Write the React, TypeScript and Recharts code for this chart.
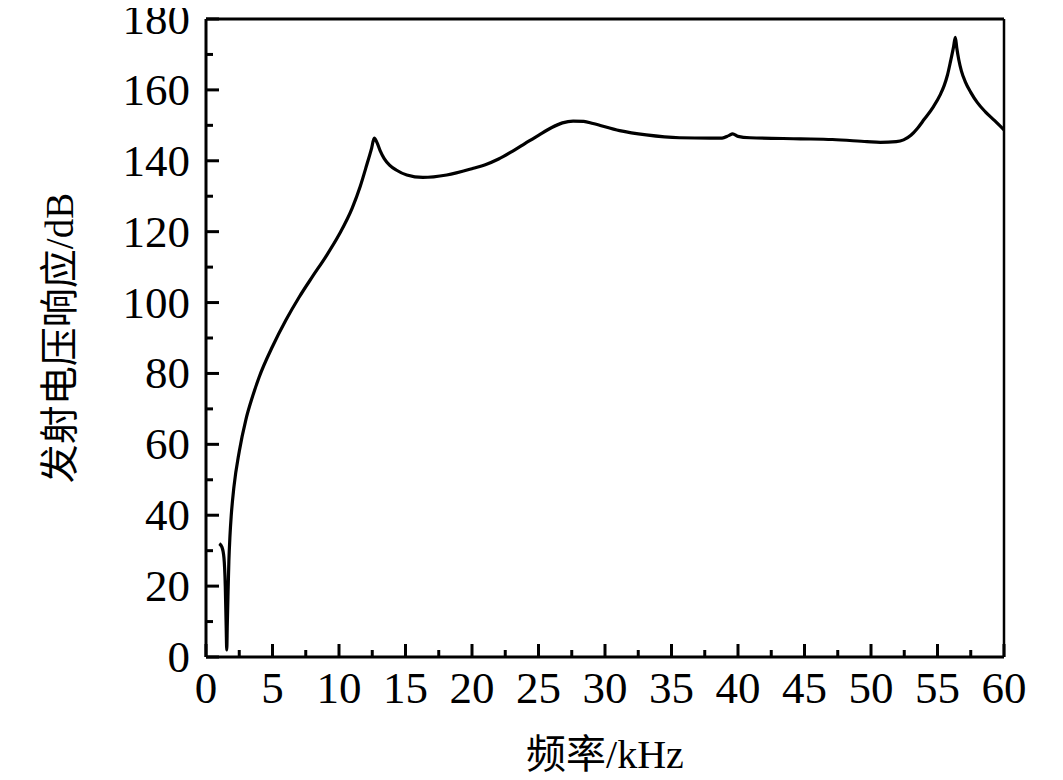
import { LineChart, Line, XAxis, YAxis, ReferenceLine } from "recharts";

// frequency (kHz) and transmitting voltage response (dB)
const freq = [
  1.0, 1.2, 1.35, 1.45, 1.52, 1.56, 1.6, 1.65, 1.72, 1.8, 1.9, 2.1, 2.5, 3.0,
  3.5, 4.0, 5.0, 6.0, 7.0, 8.0, 9.0, 10.0, 11.0, 11.6, 12.1, 12.45, 12.65,
  12.85, 13.1, 13.4, 13.8, 14.3, 15.1, 16.3, 18.1, 20.1, 21.0, 22.0, 23.0,
  24.0, 25.0, 26.0, 26.8, 27.6, 28.4, 29.1, 31.1, 33.1, 35.6, 37.9, 38.8, 39.3,
  39.6, 40.0, 40.9, 44.7, 47.1, 49.7, 50.7, 51.9, 52.45, 53.0, 53.5, 54.0,
  54.7, 55.2, 55.5, 55.75, 56.0, 56.2, 56.34, 56.45, 56.6, 56.8, 57.1, 57.5,
  58.0, 58.6, 59.3, 60,
];
const response = [
  32, 31, 28, 20, 8, 2, 9, 17, 27, 34, 40, 48, 58, 67, 73.5, 79, 87.6, 95,
  101.5, 107.3, 112.9, 119.1, 126.7, 132.8, 139, 143.5, 146.4, 145.2, 142.8,
  140.6, 138.8, 137.4, 136, 135.3, 136, 137.9, 138.9, 140.5, 142.6, 144.9,
  147.2, 149.4, 150.7, 151.2, 151.1, 150.5, 148.5, 147.3, 146.5, 146.4, 146.4,
  147.1, 147.6, 146.9, 146.5, 146.2, 146, 145.4, 145.2, 145.4, 145.9, 147.2,
  149.2, 151.7, 155.3, 158.6, 161.2, 164.2, 168.4, 172, 174.8, 171.8, 168.5,
  165.3, 162.2, 159.3, 156.4, 153.8, 151.3, 148.7,
];

const xTicks = [
  0, 2.5, 5, 7.5, 10, 12.5, 15, 17.5, 20, 22.5, 25, 27.5, 30, 32.5, 35, 37.5,
  40, 42.5, 45, 47.5, 50, 52.5, 55, 57.5, 60,
];
const yTicks = [
  0, 10, 20, 30, 40, 50, 60, 70, 80, 90, 100, 110, 120, 130, 140, 150, 160, 170,
  180,
];

const xLabel = "频率/kHz";
const yLabel = "发射电压响应/dB";

const data = freq.map((f, i) => ({ f, v: response[i] }));

const FONT = "'Liberation Serif', 'Noto Sans CJK SC', serif";

function XTick({ x, y, payload }: any) {
  const major = payload.value % 5 === 0;
  return (
    <g>
      <line x1={x} x2={x} y1={y} y2={y - (major ? 13 : 7)} stroke="#000" strokeWidth={3} />
      {major && (
        <text x={x} y={y + 46} textAnchor="middle" fontFamily={FONT} fontSize={45} fill="#000">
          {payload.value}
        </text>
      )}
    </g>
  );
}

function YTick({ x, y, payload }: any) {
  const major = payload.value % 20 === 0;
  return (
    <g>
      <line x1={x} x2={x + (major ? 13 : 7)} y1={y} y2={y} stroke="#000" strokeWidth={3} />
      {major && (
        <text x={x - 16} y={y} dy={15} textAnchor="end" fontFamily={FONT} fontSize={45} fill="#000">
          {payload.value}
        </text>
      )}
    </g>
  );
}

export default function App() {
  return (
    <div style={{ margin: "-8px 0 -8px -8px", width: 1055, height: 780 }}>
      <LineChart
        width={1055}
        height={780}
        data={data}
        margin={{ top: 19, right: 51, left: 0, bottom: 0 }}
      >
        <XAxis
          dataKey="f"
          type="number"
          domain={[0, 60]}
          ticks={xTicks}
          interval={0}
          height={123}
          tickSize={0}
          tickMargin={0}
          tick={<XTick />}
          axisLine={{ stroke: "#000", strokeWidth: 3 }}
          label={{
            content: ({ viewBox }: any) => (
              <text
                x={viewBox.x + viewBox.width / 2}
                y={viewBox.y + 97}
                textAnchor="middle"
                dominantBaseline="central"
                fontFamily={FONT}
                fontSize={40}
                fill="#000"
              >
                {xLabel}
              </text>
            ),
          }}
        />
        <YAxis
          type="number"
          domain={[0, 180]}
          ticks={yTicks}
          interval={0}
          width={206}
          tickSize={0}
          tickMargin={0}
          tick={<YTick />}
          axisLine={{ stroke: "#000", strokeWidth: 3 }}
          label={{
            content: ({ viewBox }: any) => {
              const cx = viewBox.x + 59;
              const cy = viewBox.y + viewBox.height / 2;
              return (
                <text
                  x={cx}
                  y={cy}
                  transform={`rotate(-90, ${cx}, ${cy})`}
                  textAnchor="middle"
                  dominantBaseline="central"
                  fontFamily={FONT}
                  fontSize={39}
                  fill="#000"
                >
                  {yLabel}
                </text>
              );
            },
          }}
        />
        <ReferenceLine y={180} stroke="#000" strokeWidth={3} />
        <ReferenceLine x={60} stroke="#000" strokeWidth={2.5} />
        <Line
          type="monotone"
          dataKey="v"
          stroke="#000"
          strokeWidth={3.2}
          dot={false}
          isAnimationActive={false}
        />
      </LineChart>
    </div>
  );
}
